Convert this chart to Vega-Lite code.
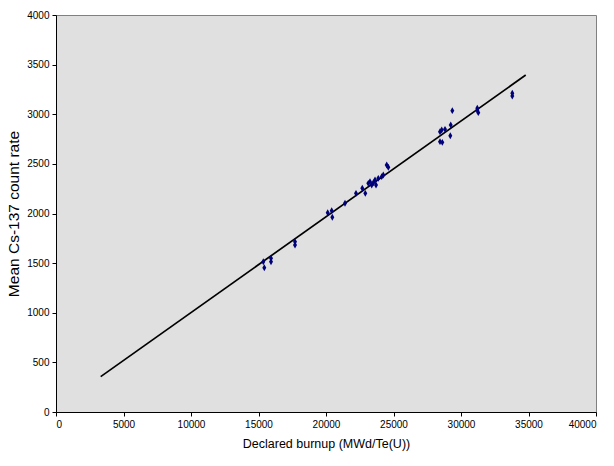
{
  "$schema": "https://vega.github.io/schema/vega-lite/v6.json",
  "width": 540,
  "height": 397,
  "autosize": {"type": "none"},
  "padding": {"left": 56, "top": 15, "right": 18, "bottom": 54},
  "background": "white",
  "config": {
    "font": "Liberation Sans",
    "view": {"fill": "#e0e0e0", "stroke": "#808080", "strokeWidth": 1},
    "axis": {
      "grid": false,
      "domainColor": "black",
      "tickColor": "black",
      "labelColor": "black",
      "titleColor": "black",
      "labelFont": "Liberation Sans",
      "titleFont": "Liberation Sans",
      "labelFontSize": 10,
      "titleFontWeight": "normal",
      "tickSize": 4,
      "labelPadding": 3
    }
  },
  "datasets": {
    "points": [
      {"burnup": 15356, "rate": 1514},
      {"burnup": 15430, "rate": 1454},
      {"burnup": 15926, "rate": 1549},
      {"burnup": 15926, "rate": 1514},
      {"burnup": 17704, "rate": 1716},
      {"burnup": 17704, "rate": 1683},
      {"burnup": 20126, "rate": 2008},
      {"burnup": 20422, "rate": 2028},
      {"burnup": 20467, "rate": 1962},
      {"burnup": 21407, "rate": 2103},
      {"burnup": 22222, "rate": 2203},
      {"burnup": 22689, "rate": 2254},
      {"burnup": 22911, "rate": 2203},
      {"burnup": 23133, "rate": 2304},
      {"burnup": 23259, "rate": 2321},
      {"burnup": 23385, "rate": 2287},
      {"burnup": 23504, "rate": 2310},
      {"burnup": 23630, "rate": 2337},
      {"burnup": 23704, "rate": 2287},
      {"burnup": 23874, "rate": 2354},
      {"burnup": 24126, "rate": 2371},
      {"burnup": 24244, "rate": 2388},
      {"burnup": 24496, "rate": 2489},
      {"burnup": 24615, "rate": 2466},
      {"burnup": 28444, "rate": 2724},
      {"burnup": 28615, "rate": 2717},
      {"burnup": 28444, "rate": 2824},
      {"burnup": 28815, "rate": 2848},
      {"burnup": 28570, "rate": 2841},
      {"burnup": 29237, "rate": 2892},
      {"burnup": 29207, "rate": 2784},
      {"burnup": 29356, "rate": 3036},
      {"burnup": 31207, "rate": 3060},
      {"burnup": 31281, "rate": 3016},
      {"burnup": 31207, "rate": 3040},
      {"burnup": 33800, "rate": 3211},
      {"burnup": 33800, "rate": 3184}
    ],
    "fit": [
      {"burnup": 3311, "rate": 356},
      {"burnup": 34793, "rate": 3395}
    ]
  },
  "encoding": {
    "x": {
      "field": "burnup", "type": "quantitative",
      "scale": {"domain": [0, 40000], "nice": false, "zero": false},
      "axis": {"title": "Declared burnup (MWd/Te(U))", "titleFontSize": 12.5, "values": [0,5000,10000,15000,20000,25000,30000,35000,40000], "format": "d", "titlePadding": 8}
    },
    "y": {
      "field": "rate", "type": "quantitative",
      "scale": {"domain": [0, 4000], "nice": false, "zero": false},
      "axis": {"title": "Mean Cs-137 count rate", "titleFontSize": 15.5, "values": [0,500,1000,1500,2000,2500,3000,3500,4000], "format": "d", "titlePadding": 5}
    }
  },
  "layer": [
    {
      "data": {"name": "fit"},
      "mark": {"type": "line", "color": "black", "strokeWidth": 1.7}
    },
    {
      "data": {"name": "points"},
      "mark": {"type": "point", "shape": "M0,-1.3L0.75,0L0,1.3L-0.75,0Z", "filled": true, "color": "#00007a", "size": 28, "opacity": 1}
    }
  ]
}
